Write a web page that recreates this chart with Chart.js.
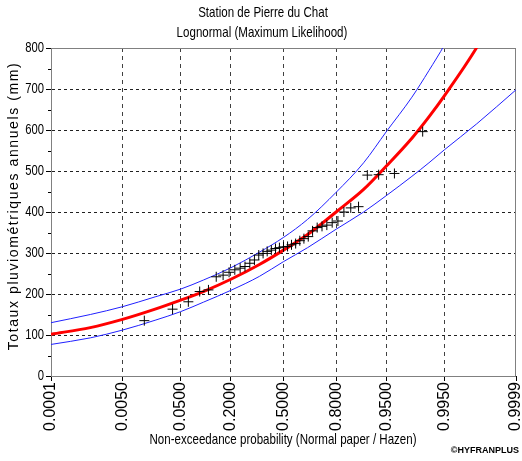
<!DOCTYPE html>
<html>
<head>
<meta charset="utf-8">
<script src="https://cdn.jsdelivr.net/npm/chart.js@4/dist/chart.umd.min.js"></script>
<style>
  html, body { margin: 0; padding: 0; background: #fff; }
  #wrap { width: 522px; height: 461px; }
</style>
</head>
<body>
<div id="wrap"><canvas id="chart" width="522" height="461"></canvas></div>
<script>
// x axis ticks (non-exceedance probability, normal paper)
const tickProbs = [0.0001, 0.005, 0.05, 0.2, 0.5, 0.8, 0.95, 0.995, 0.9999]
const tickLabels = ['0.0001', '0.0050', '0.0500', '0.2000', '0.5000', '0.8000', '0.9500', '0.9950', '0.9999']

// observations (Hazen plotting positions)
const obsProbs = [0.013, 0.038, 0.064, 0.090, 0.115, 0.141, 0.167, 0.192, 0.218, 0.244,
    0.269, 0.295, 0.321, 0.346, 0.372, 0.397, 0.423, 0.449, 0.474, 0.500,
    0.526, 0.551, 0.577, 0.603, 0.628, 0.654, 0.679, 0.705, 0.731, 0.756,
    0.782, 0.808, 0.833, 0.859, 0.885, 0.910, 0.936, 0.962, 0.987]
const obsValues = [135, 163, 181, 206, 210, 242, 246, 253, 259, 263,
    267, 275, 283, 295, 299, 304, 307, 311, 313, 315,
    316, 320, 323, 330, 335, 340, 354, 362, 365, 368,
    374, 378, 400, 410, 413, 490, 491, 494, 596]

// fitted lognormal and confidence band, read at these probabilities
const curveProbs = [0.0001, 0.001, 0.005, 0.02, 0.05, 0.1, 0.2, 0.35, 0.5, 0.65, 0.8, 0.9, 0.95, 0.98, 0.99, 0.995, 0.999, 0.9999]
const fitValues = [102, 118, 138, 163, 185, 206, 236, 272, 307, 345, 400, 455, 512, 580, 632, 684, 801, 975]
const upperValues = [130, 150, 169, 193, 212, 234, 264, 302, 338, 382, 448, 520, 596, 680, 745, 808, 960, 1200]
const lowerValues = [77, 93, 112, 136, 157, 180, 209, 243, 279, 313, 358, 400, 440, 487, 520, 552, 615, 698]

// inverse normal cdf (Acklam) -> position on normal paper
function probit(p) {
    const a = [-3.969683028665376e+01, 2.209460984245205e+02, -2.759285104469687e+02, 1.383577518672690e+02, -3.066479806614716e+01, 2.506628277459239e+00]
    const b = [-5.447609879822406e+01, 1.615858368580409e+02, -1.556989798598866e+02, 6.680131188771972e+01, -1.328068155288572e+01]
    const c = [-7.784894002430293e-03, -3.223964580411365e-01, -2.400758277161838e+00, -2.549732539343734e+00, 4.374664141464968e+00, 2.938163982698783e+00]
    const d = [7.784695709041462e-03, 3.224671290700398e-01, 2.445134137142996e+00, 3.754408661907416e+00]
    const pl = 0.02425
    let q, r
    if (p < pl) {
        q = Math.sqrt(-2 * Math.log(p))
        return (((((c[0]*q+c[1])*q+c[2])*q+c[3])*q+c[4])*q+c[5]) / ((((d[0]*q+d[1])*q+d[2])*q+d[3])*q+1)
    }
    if (p > 1 - pl) {
        q = Math.sqrt(-2 * Math.log(1 - p))
        return -(((((c[0]*q+c[1])*q+c[2])*q+c[3])*q+c[4])*q+c[5]) / ((((d[0]*q+d[1])*q+d[2])*q+d[3])*q+1)
    }
    q = p - 0.5
    r = q * q
    return (((((a[0]*r+a[1])*r+a[2])*r+a[3])*r+a[4])*r+a[5])*q / (((((b[0]*r+b[1])*r+b[2])*r+b[3])*r+b[4])*r+1)
}

const toXY = (probs, vals) => probs.map((p, i) => ({ x: probit(p), y: vals[i] }))

const arial = "'Liberation Sans', Arial, sans-serif"

// narrow-looking text: squeeze Liberation Sans horizontally
function narrowText(ctx, text, x, y, size, sx) {
    ctx.save()
    ctx.font = size + 'px ' + arial
    ctx.translate(x, y)
    ctx.scale(sx, 1)
    ctx.fillText(text, 0, 0)
    ctx.restore()
}

const textPlugin = {
    id: 'texts',
    beforeDatasetsDraw(chart) {
        const { ctx, chartArea: a } = chart
        ctx.save()
        ctx.strokeStyle = '#808080'
        ctx.lineWidth = 1
        ctx.strokeRect(a.left + 0.5, a.top + 0.5, a.right - a.left - 1, a.bottom - a.top)
        ctx.restore()
    },
    afterDraw(chart) {
        const { ctx, chartArea: a, scales } = chart
        ctx.save()
        // minor y ticks
        ctx.strokeStyle = '#000'
        ctx.lineWidth = 1
        for (let v = 50; v < 800; v += 100) {
            const y = Math.round(scales.y.getPixelForValue(v)) + 0.5
            ctx.beginPath()
            ctx.moveTo(a.left - 3, y)
            ctx.lineTo(a.left, y)
            ctx.stroke()
        }
        // y tick labels
        ctx.fillStyle = '#000'
        ctx.textAlign = 'right'
        ctx.textBaseline = 'middle'
        for (let v = 0; v <= 800; v += 100) {
            narrowText(ctx, String(v), 44, scales.y.getPixelForValue(v), 15, 0.75)
        }
        ctx.textAlign = 'center'
        narrowText(ctx, 'Station de Pierre du Chat', 263, 13, 15, 0.77)
        narrowText(ctx, 'Lognormal (Maximum Likelihood)', 262, 33, 15, 0.77)
        narrowText(ctx, 'Non-exceedance probability (Normal paper / Hazen)', 283, 440, 15, 0.77)
        ctx.font = 'bold 9px ' + arial
        ctx.textAlign = 'right'
        ctx.fillText('\u00A9HYFRANPLUS', 519, 451)
        ctx.translate(14, 206)
        ctx.rotate(-Math.PI / 2)
        ctx.textAlign = 'center'
        ctx.font = '14px ' + arial
        ctx.letterSpacing = '1.6px'
        ctx.fillText('Totaux pluviométriques annuels (mm)', 0, 0)
        ctx.restore()
    }
}

new Chart(document.getElementById('chart'), {
    type: 'scatter',
    data: {
        datasets: [
            {
                label: 'Observations',
                data: toXY(obsProbs, obsValues),
                pointStyle: 'cross',
                pointRadius: 5,
                pointBorderWidth: 1,
                borderColor: '#000',
                backgroundColor: '#000',
                showLine: false
            },
            {
                label: 'Fit',
                data: toXY(curveProbs, fitValues),
                showLine: true,
                borderColor: '#ff0000',
                borderWidth: 3,
                pointRadius: 0,
                cubicInterpolationMode: 'monotone'
            },
            {
                label: 'Upper',
                data: toXY(curveProbs, upperValues),
                showLine: true,
                borderColor: '#2020ff',
                borderWidth: 1,
                pointRadius: 0,
                cubicInterpolationMode: 'monotone'
            },
            {
                label: 'Lower',
                data: toXY(curveProbs, lowerValues),
                showLine: true,
                borderColor: '#2020ff',
                borderWidth: 1,
                pointRadius: 0,
                cubicInterpolationMode: 'monotone'
            }
        ]
    },
    options: {
        responsive: false,
        animation: false,
        layout: { padding: { top: 48, right: 5, left: 0, bottom: 0 } },
        plugins: { legend: { display: false }, tooltip: { enabled: false } },
        scales: {
            x: {
                type: 'linear',
                min: probit(0.0001),
                max: probit(0.9999),
                afterBuildTicks: scale => {
                    scale.ticks = tickProbs.map(p => ({ value: probit(p) }))
                },
                afterFit: scale => {
                    scale.height = 85
                    scale.paddingLeft = 0
                    scale.paddingRight = 0
                },
                ticks: {
                    autoSkip: false,
                    minRotation: 90,
                    maxRotation: 90,
                    padding: 1,
                    color: '#000',
                    font: { family: arial, size: 16 },
                    callback: (v, i) => tickLabels[i]
                },
                grid: {
                    color: c => (c.index > 0 && c.index < tickProbs.length - 1) ? '#404040' : 'transparent',
                    tickColor: '#000',
                    tickLength: 5
                },
                border: { color: '#000', width: 1, dash: [4, 4] }
            },
            y: {
                min: 0,
                max: 800,
                afterBuildTicks: scale => {
                    scale.ticks = [0, 100, 200, 300, 400, 500, 600, 700, 800].map(v => ({ value: v }))
                },
                afterFit: scale => {
                    scale.width = 51
                    scale.paddingTop = 0
                    scale.paddingBottom = 0
                },
                ticks: {
                    color: 'transparent',
                    font: { family: arial, size: 13 }
                },
                grid: {
                    color: c => (c.tick && c.tick.value > 0 && c.tick.value < 800) ? '#202020' : 'transparent',
                    tickColor: '#000',
                    tickLength: 5
                },
                border: { color: '#000', width: 1, dash: [3, 3] }
            }
        }
    },
    plugins: [textPlugin]
})
</script>
</body>
</html>
